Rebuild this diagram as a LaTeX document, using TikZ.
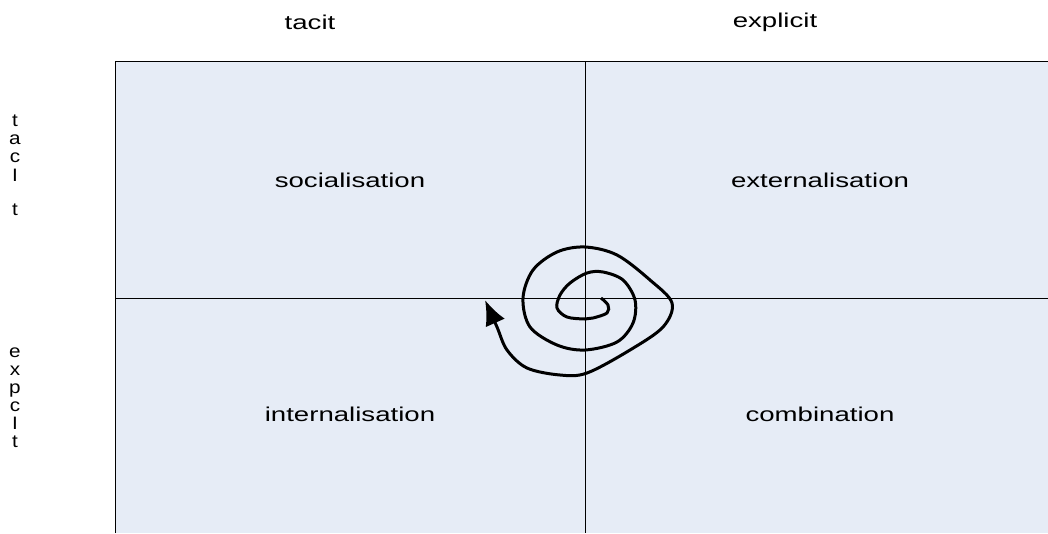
\documentclass[tikz,border=0pt]{standalone}
\usepackage{fontspec}
\setmainfont{Liberation Sans}[FakeStretch=1.38]
\newfontfamily\plainsans{Liberation Sans}[FakeStretch=1.15]
\usepackage{tikz}
\usetikzlibrary{arrows.meta,positioning,calc}
\definecolor{quadfill}{HTML}{E6ECF6}
\tikzset{
  % Base styles
  matrix base/.style={
    x=1pt, y=-1pt,
    every node/.style={font=\fontsize{20pt}{24pt}\selectfont, inner sep=0pt, text=black},
  },
  % Quadrant frame
  quad line/.style={draw=black, line width=1pt},
  % Vertical axis letters
  axis letter/.style={anchor=center, text height=10pt, text depth=0pt,
    font=\plainsans\fontsize{18pt}{20pt}\selectfont},
  % Spiral
  spiral line/.style={line width=3pt, -{Latex[length=25pt,width=21pt]}},
}

\begin{document}
\begin{tikzpicture}[matrix base]
\useasboundingbox (0,0) rectangle (1048,533);

% Background of the quadrants
\fill[quadfill] (115,61) rectangle (1048,533);

% Frame and dividers
\draw[quad line] (115,533) -- (115,61) -- (1048,61);
\draw[quad line] (585,61) -- (585,533);
\draw[quad line] (115,298) -- (1048,298);

% Column headings
\node (tacit) at (310,22) {tacit};
\node (explicit) at (775,22) {explicit};

% Row headings (stacked letters)
\foreach \ch/\yy [count=\i] in {t/121, a/139, c/157, I/176, t/210}
  \node[axis letter] (rowT\i) at (15,\yy) {\ch};
\foreach \ch/\yy [count=\i] in {e/352, x/370, p/388, c/406, I/424, t/442}
  \node[axis letter] (rowE\i) at (15,\yy) {\ch};

% Quadrant labels
\node (soc) at (350,180) {socialisation};
\node (ext) at (820,180) {externalisation};
\node (int) at (350,414) {internalisation};
\node (com) at (820,414) {combination};

% Spiral
\draw[spiral line] plot[smooth, tension=0.55] coordinates {
  (601,298) (608,305) (607,313) (593,318) (585,319) (567,317) (557,308)
  (560,295) (570,283) (587,273) (603,272) (623,280) (635,300) (633,323)
  (617,342) (585,350) (557,345) (530,327) (523,298) (533,270) (557,252)
  (585,247) (617,255) (650,280) (672,303) (663,327) (630,350) (587,373)
  (560,375) (527,368) (507,350) (497,327) (485,300)};
\end{tikzpicture}
\end{document}
